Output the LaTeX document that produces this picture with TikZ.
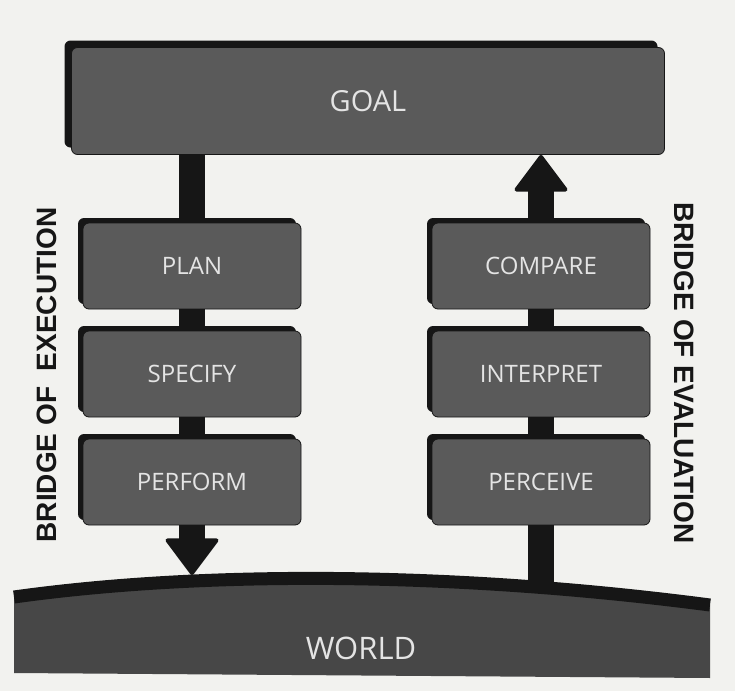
\documentclass[tikz,border=0pt]{standalone}
\usepackage{fontspec}
\setmainfont{Liberation Sans}
\newfontfamily\handfont{Open Sans}
\usepackage{xcolor}
\usetikzlibrary{positioning, arrows.meta, shadows}

\definecolor{paper}{HTML}{F2F2EF}
\definecolor{boxgrey}{HTML}{5A5A5A}
\definecolor{worldgrey}{HTML}{474747}
\definecolor{labelwhite}{HTML}{E4E4E4}
\definecolor{ink}{HTML}{161616}

\begin{document}
\begin{tikzpicture}[
        x=0.5pt, y=-0.5pt,
        node distance=54pt,
        stage/.style={
            rectangle,
            draw=ink,
            fill=boxgrey,
            rounded corners=3pt,
            minimum width=109pt,
            minimum height=43pt,
            text=labelwhite,
            font=\handfont\fontsize{12}{14}\selectfont
        },
        lift/.style={drop shadow={shadow xshift=-#1, shadow yshift=#1, fill=ink, opacity=1}},
        stem/.style={line width=13pt, draw=ink},
        head/.style={-{Triangle[width=28pt, length=19pt, line width=2pt, round]}},
        bridge/.style={font=\bfseries\fontsize{14}{16}\selectfont, text=ink}
    ]
        \useasboundingbox[fill=paper] (0,0) rectangle (735,691);

        % Goal
        \node[stage, lift=3.5pt, minimum width=296.5pt, minimum height=53.5pt,
              font=\handfont\fontsize{14.5}{16}\selectfont] (goal) at (368,101) {GOAL};

        % Execution side
        \node[stage, lift=2.5pt] (plan) at (192,266) {PLAN};
        \node[stage, lift=2.5pt, below of=plan] (specify) {SPECIFY};
        \node[stage, lift=2.5pt, below of=specify] (perform) {PERFORM};

        % Evaluation side
        \node[stage, lift=2.5pt, right of=plan, node distance=174.5pt] (compare) {COMPARE};
        \node[stage, lift=2.5pt, below of=compare] (interpret) {INTERPRET};
        \node[stage, lift=2.5pt, below of=interpret] (perceive) {PERCEIVE};

        % World
        \fill[worldgrey] (14,597) .. controls (200,571) and (450,571) .. (710,605)
            -- (710,678) -- (14,673) -- cycle;
        \draw[line width=6.5pt, ink] (14,597) .. controls (200,571) and (450,571) .. (710,605);
        \node[text=labelwhite, font=\handfont\fontsize{15.5}{17}\selectfont] (world) at (361,648) {WORLD};
        \coordinate (touch) at (192,575);
        \coordinate (ground) at (541,592);

        % Bridges
        \draw[stem] (goal.south -| plan) -- (plan.north);
        \draw[stem] (plan.south) -- (specify.north);
        \draw[stem] (specify.south) -- (perform.north);
        \draw[stem, head] (perform.south) -- (perform.south |- touch);

        \draw[stem] (perceive.south) -- (perceive.south |- ground);
        \draw[stem] (perceive.north) -- (interpret.south);
        \draw[stem] (interpret.north) -- (compare.south);
        \draw[stem, head] (compare.north) -- (compare.north |- goal.south);

        % Labels
        \node[bridge, rotate=90] (execution) at (47,375) {BRIDGE OF~ EXECUTION};
        \node[bridge, rotate=-90] (evaluation) at (684,373) {BRIDGE OF EVALUATION};
    \end{tikzpicture}
\end{document}
